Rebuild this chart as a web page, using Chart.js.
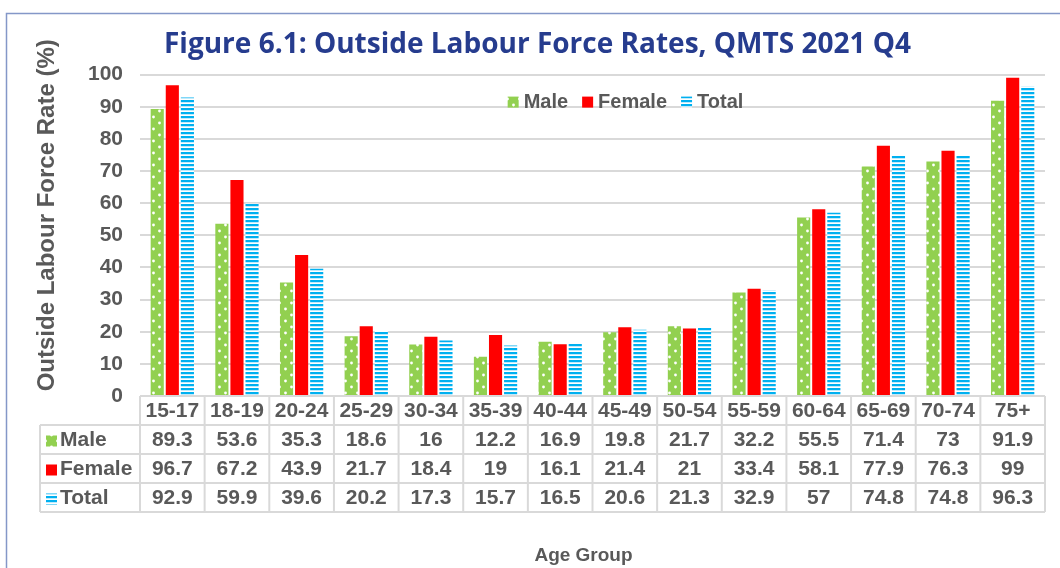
<!DOCTYPE html>
<html>
<head>
<meta charset="utf-8">
<script src="https://cdn.jsdelivr.net/npm/chart.js@4.4.1/dist/chart.umd.min.js"></script>
<style>
  html, body { margin: 0; padding: 0; background: #fff; }
  #wrap { width: 1060px; height: 568px; }
</style>
</head>
<body>
<div id="wrap"><canvas id="myChart" width="1060" height="568"></canvas></div>
<script>
const ageGroups = ['15-17', '18-19', '20-24', '25-29', '30-34', '35-39', '40-44', '45-49', '50-54', '55-59', '60-64', '65-69', '70-74', '75+'];
const maleRates = [89.3, 53.6, 35.3, 18.6, 16, 12.2, 16.9, 19.8, 21.7, 32.2, 55.5, 71.4, 73, 91.9];
const femaleRates = [96.7, 67.2, 43.9, 21.7, 18.4, 19, 16.1, 21.4, 21, 33.4, 58.1, 77.9, 76.3, 99];
const totalRates = [92.9, 59.9, 39.6, 20.2, 17.3, 15.7, 16.5, 20.6, 21.3, 32.9, 57, 74.8, 74.8, 96.3];

const GREY = '#595959';
const FONT = '"Liberation Sans", Arial, sans-serif';

// green with white dots
function dotPattern() {
  const c = document.createElement('canvas');
  c.width = 12; c.height = 12;
  const g = c.getContext('2d');
  g.fillStyle = '#92d050';
  g.fillRect(0, 0, 12, 12);
  g.fillStyle = '#ffffff';
  g.beginPath(); g.arc(3.5, 3, 1.4, 0, Math.PI * 2); g.fill();
  g.beginPath(); g.arc(9.5, 9, 1.4, 0, Math.PI * 2); g.fill();
  return g.createPattern(c, 'repeat');
}

// blue horizontal stripes
function stripePattern() {
  const c = document.createElement('canvas');
  c.width = 4; c.height = 4;
  const g = c.getContext('2d');
  g.fillStyle = '#ffffff';
  g.fillRect(0, 0, 4, 4);
  g.fillStyle = '#00b0f0';
  g.fillRect(0, 0, 4, 2);
  g.fillStyle = '#bfeafb';
  g.fillRect(0, 2, 4, 1);
  return g.createPattern(c, 'repeat');
}

const framePlugin = {
  id: 'frame',
  beforeDraw(chart) {
    const ctx = chart.ctx;
    ctx.save();
    ctx.strokeStyle = '#8497c8';
    ctx.lineWidth = 1.5;
    ctx.beginPath();
    ctx.moveTo(6.5, chart.height);
    ctx.lineTo(6.5, 13.5);
    ctx.lineTo(chart.width, 13.5);
    ctx.stroke();
    ctx.restore();
  },
  afterDraw(chart) {
    // axis titles
    const ctx = chart.ctx;
    const area = chart.chartArea;
    ctx.save();
    ctx.fillStyle = GREY;
    ctx.textAlign = 'center';
    ctx.textBaseline = 'middle';
    ctx.font = 'bold 24px ' + FONT;
    ctx.translate(47, area.top - 20 + (area.bottom - area.top) / 2);
    ctx.rotate(-Math.PI / 2);
    ctx.fillText('Outside Labour Force Rate (%)', 0, 0);
    ctx.restore();
    ctx.save();
    ctx.fillStyle = GREY;
    ctx.textAlign = 'center';
    ctx.textBaseline = 'middle';
    ctx.font = 'bold 19px ' + FONT;
    ctx.fillText('Age Group', (area.left + area.right) / 2 - 9, chart.height - 12);
    ctx.restore();
  }
};

const legendPlugin = {
  id: 'insideLegend',
  afterDatasetsDraw(chart) {
    const ctx = chart.ctx;
    const area = chart.chartArea;
    ctx.save();
    ctx.font = 'bold 20px ' + FONT;
    const box = 11, gap = 5, itemGap = 14;
    const items = chart.data.datasets.map(ds => ({
      label: ds.label,
      fill: ds.backgroundColor,
      w: box + gap + ctx.measureText(ds.label).width
    }));
    const totalW = items.reduce((s, it) => s + it.w, 0) + itemGap * (items.length - 1);
    let x = (area.left + area.right) / 2 + 33 - totalW / 2;
    const baseY = area.top + 33;
    ctx.textBaseline = 'alphabetic';
    ctx.textAlign = 'left';
    items.forEach(it => {
      ctx.fillStyle = it.fill;
      ctx.fillRect(x, baseY - box, box, box);
      ctx.fillStyle = GREY;
      ctx.fillText(it.label, x + box + gap, baseY);
      x += it.w + itemGap;
    });
    ctx.restore();
  }
};

const tablePlugin = {
  id: 'dataTable',
  afterDraw(chart) {
    const ctx = chart.ctx;
    const area = chart.chartArea;
    const xs = chart.scales.x;
    const n = chart.data.labels.length;
    const colW = xs.width / n;
    const rowH = 29;
    const top = area.bottom;
    const labelLeft = area.left - 100;
    const line = (x1, y1, x2, y2) => {
      ctx.beginPath(); ctx.moveTo(x1, y1); ctx.lineTo(x2, y2); ctx.stroke();
    };
    ctx.save();
    ctx.strokeStyle = '#d9d9d9';
    ctx.lineWidth = 2;
    for (let r = 1; r <= 4; r++) line(labelLeft, top + r * rowH, area.right, top + r * rowH);
    for (let i = 0; i <= n; i++) line(xs.left + i * colW, top, xs.left + i * colW, top + 4 * rowH);
    line(labelLeft, top + rowH, labelLeft, top + 4 * rowH);

    ctx.font = 'bold 21px ' + FONT;
    ctx.textBaseline = 'middle';
    ctx.textAlign = 'center';
    ctx.fillStyle = GREY;
    chart.data.labels.forEach((lab, i) => ctx.fillText(lab, xs.getPixelForValue(i), top + rowH / 2 + 1));
    chart.data.datasets.forEach((ds, r) => {
      const cy = top + (r + 1.5) * rowH + 1;
      ctx.textAlign = 'center';
      ctx.fillStyle = GREY;
      ds.data.forEach((v, i) => ctx.fillText(String(v), xs.getPixelForValue(i), cy));
      ctx.fillStyle = ds.backgroundColor;
      ctx.fillRect(labelLeft + 6, cy - 5, 11, 11);
      ctx.fillStyle = GREY;
      ctx.textAlign = 'left';
      ctx.fillText(ds.label, labelLeft + 20, cy);
    });
    ctx.restore();
  }
};

const myCtx = document.getElementById('myChart').getContext('2d');
const myChart = new Chart(myCtx, {
  type: 'bar',
  data: {
    labels: ageGroups,
    datasets: [
      { label: 'Male', data: maleRates, backgroundColor: dotPattern() },
      { label: 'Female', data: femaleRates, backgroundColor: '#ff0000' },
      { label: 'Total', data: totalRates, backgroundColor: stripePattern() }
    ]
  },
  options: {
    responsive: false,
    animation: false,
    layout: { padding: { left: 30, right: 15, top: 0, bottom: 0 } },
    datasets: { bar: { categoryPercentage: 0.7, barPercentage: 0.87 } },
    scales: {
      x: {
        grid: { display: false },
        border: { display: false },
        ticks: { display: false },
        afterFit: s => { s.height = 172; }
      },
      y: {
        min: 0,
        max: 100,
        grid: { color: '#d9d9d9', lineWidth: 2, drawTicks: false },
        border: { display: false },
        ticks: {
          stepSize: 10,
          padding: 17,
          color: GREY,
          font: { family: FONT, size: 21, weight: 'bold' }
        },
        afterFit: s => { s.width = 110; }
      }
    },
    plugins: {
      legend: { display: false },
      tooltip: { enabled: false },
      title: {
        display: true,
        text: 'Figure 6.1: Outside Labour Force Rates, QMTS 2021 Q4',
        color: '#263c8e',
        font: { family: '"Open Sans"', size: 28, weight: 'bold' },
        padding: { top: 28, bottom: 13 }
      }
    }
  },
  plugins: [framePlugin, legendPlugin, tablePlugin]
});
</script>
</body>
</html>
